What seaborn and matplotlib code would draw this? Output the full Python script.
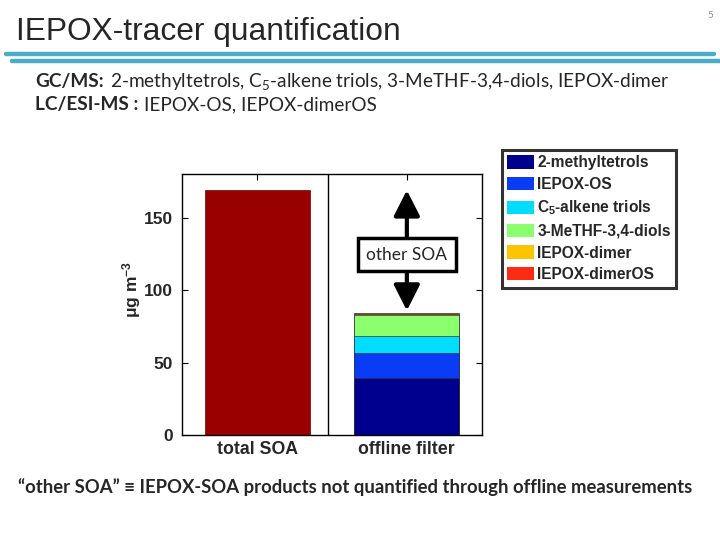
import matplotlib
matplotlib.use("Agg")
import matplotlib.pyplot as plt
import seaborn as sns
import pandas as pd
from matplotlib.patches import Patch

# ---- data ----
bar_labels = ["total SOA", "offline filter"]
total_soa = [169.0]
species = ["2-methyltetrols", "IEPOX-OS", "C$_5$-alkene triols",
           "3-MeTHF-3,4-diols", "IEPOX-dimer", "IEPOX-dimerOS"]
offline_values = [39.5, 17.0, 11.7, 14.6, 0.6, 1.2]
species_colors = ["#00008F", "#0A3CF5", "#00DDFF", "#8CFF6E", "#FFC400", "#FF2A12"]
total_color = "#990000"
y_ticks = [0, 50, 100, 150]
other_soa_top = 169.0
other_soa_bottom = 86.0

sns.set_theme(style="white")
plt.rcParams['font.family'] = ['Liberation Sans', 'DejaVu Sans']
plt.rcParams['mathtext.default'] = 'regular'

fig = plt.figure(figsize=(7.2, 5.4), dpi=100)
renderer = fig.canvas.get_renderer()

def fx(x):
    return x / 720.0

def fy(y):
    return 1 - y / 540.0

# ---- slide header ----
title = fig.text(fx(16), fy(40), "IEPOX-tracer quantification", fontsize=20,
                 family=['Liberation Sans'], ha='left', va='baseline')
bb = title.get_window_extent(renderer)
title.set_fontsize(20 * 384.0 / bb.width)

fig.add_artist(plt.Line2D([fx(6), fx(714)], [fy(54), fy(54)], color="#4BACC6", lw=3.2))
fig.add_artist(plt.Line2D([fx(12), fx(720)], [fy(60.5), fy(60.5)], color="#4BACC6", lw=3.2))
fig.text(fx(710), fy(18), "5", fontsize=7, color="#888888", family=['Lato'], ha='center', va='baseline')

def rich_line(x, y, parts, size, gap=6):
    texts = []
    cx = x
    for s, w in parts:
        t = fig.text(fx(cx), fy(y), s, fontsize=size, fontweight=w,
                     family=['Lato', 'DejaVu Sans'], ha='left', va='baseline')
        texts.append(t)
        cx += t.get_window_extent(renderer).width + gap
    return texts, cx - gap - x

line1_parts = [("GC/MS:", 'bold'),
               ("2-methyltetrols, C$_5$-alkene triols, 3-MeTHF-3,4-diols, IEPOX-dimer", 'normal')]
line2_parts = [("LC/ESI-MS :", 'bold'), ("IEPOX-OS, IEPOX-dimerOS", 'normal')]

texts, w = rich_line(35, 87, line1_parts, 14)
size = 14 * (672 - 35) / w
for t in texts:
    t.remove()
rich_line(35, 87, line1_parts, size)
rich_line(35, 110, line2_parts, size)

foot = fig.text(fx(18), fy(493),
                "\u201cother SOA\u201d \u2261 IEPOX-SOA products not quantified through offline measurements",
                fontsize=13, fontweight='bold', family=['Lato', 'DejaVu Sans'], ha='left', va='baseline')
bb = foot.get_window_extent(renderer)
foot.set_fontsize(13 * (690 - 18) / bb.width)

# ---- chart ----
ax = fig.add_axes([182.3 / 720, 1 - 435.3 / 540, 299.4 / 720, 261.0 / 540])

sns.barplot(x=["total SOA"], y=total_soa, order=bar_labels, color=total_color,
            width=0.7, errorbar=None, saturation=1, ax=ax,
            edgecolor="#660000", linewidth=0.5)

cum = pd.Series(offline_values).cumsum().tolist()
for i in range(len(cum) - 1, -1, -1):
    sns.barplot(x=["offline filter"], y=[cum[i]], order=bar_labels,
                color=species_colors[i], width=0.7, errorbar=None, saturation=1,
                ax=ax, edgecolor="#333333", linewidth=0.5)

ax.set_xlim(-0.5, 1.5)
ax.set_ylim(0, 180)
ax.set_yticks(y_ticks)
ax.set_yticklabels([str(v) for v in y_ticks])
ax.axvline(0.47, color='black', lw=1.0)

for s in ax.spines.values():
    s.set_color('black')
    s.set_linewidth(1.0)
ax.tick_params(direction='in', top=True, right=True, bottom=True, left=True,
               length=4, width=0.8, color='black')
ax.tick_params(axis='y', pad=7)
ax.tick_params(axis='x', pad=4)
for lab in ax.get_yticklabels():
    lab.set_fontweight('bold')
    lab.set_fontsize(12.5)
for lab in ax.get_xticklabels():
    lab.set_fontweight('bold')
    lab.set_fontsize(12.8)
ax.set_xlabel("")
ax.set_ylabel("\u03bcg m$^{-3}$", fontsize=12.5, fontweight='bold')
ax.yaxis.set_label_coords(-0.13, 0.557)

# other SOA arrow and box
ax.annotate("", xy=(1, other_soa_top), xytext=(1, other_soa_bottom),
            arrowprops=dict(arrowstyle='<|-|>,head_length=0.65,head_width=0.33',
                            lw=3, color='black', mutation_scale=24,
                            shrinkA=0, shrinkB=0), zorder=4)
ax.text(1, 124.6, "other SOA", ha='center', va='center', fontsize=12.5,
        family=['Lato', 'DejaVu Sans'], zorder=5,
        bbox=dict(boxstyle='square,pad=0.5', fc='white', ec='black', lw=2.5))

# legend
handles = [Patch(facecolor=c, edgecolor='none') for c in species_colors]
leg = fig.legend(handles, species, loc='upper left',
                 bbox_to_anchor=(fx(501.7), fy(150)), frameon=True,
                 fancybox=False, prop={'family': 'Liberation Sans', 'weight': 'bold', 'size': 11.2},
                 handlelength=1.7, handleheight=0.95, handletextpad=0.25,
                 labelspacing=0.42, borderpad=0.35, borderaxespad=0)
leg.get_frame().set_edgecolor('black')
leg.get_frame().set_linewidth(2.2)

fig.savefig("out.png", dpi=100)
